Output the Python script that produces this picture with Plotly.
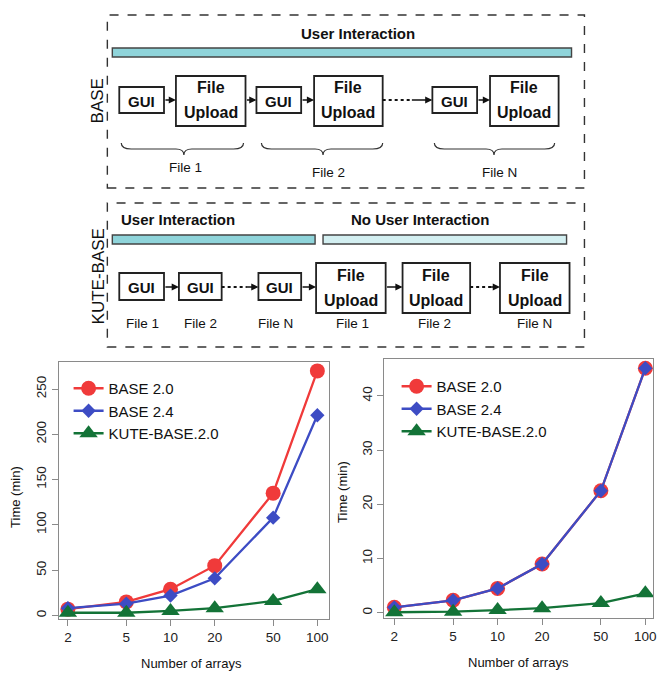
import plotly.graph_objects as go

W, H = 663, 673
FONT = "Liberation Sans, Arial, sans-serif"

# ---------------- data ----------------
arrays = [2, 5, 10, 20, 50, 100]
series_names = ["BASE 2.0", "BASE 2.4", "KUTE-BASE.2.0"]
left_base20 = [7, 15, 29, 55, 135, 270]
left_base24 = [8, 13, 22, 41, 108, 221]
left_kute = [3, 3, 5, 8, 16, 29]
right_base20 = [1.0, 2.3, 4.5, 9.0, 22.5, 45.1]
right_base24 = [1.0, 2.3, 4.5, 9.0, 22.5, 45.1]
right_kute = [0.1, 0.2, 0.5, 0.85, 1.8, 3.6]
left_yticks = [0, 50, 100, 150, 200, 250]
right_yticks = [0, 10, 20, 30, 40]

colors = ["#f03a3a", "#3d4cc4", "#137337"]
symbols = ["circle", "diamond", "triangle-up"]
sizes = [15, 11, 16]


def px(x):
    return x / W


def py(y):
    return 1 - y / H


fig = go.Figure()

for vals, nm, c, s, sz in zip([left_base20, left_base24, left_kute], series_names, colors, symbols, sizes):
    fig.add_trace(go.Scatter(x=arrays, y=vals, name=nm, mode="lines+markers",
                             line=dict(color=c, width=2.3),
                             marker=dict(symbol=s, size=sz, color=c),
                             xaxis="x", yaxis="y", legend="legend"))
for vals, nm, c, s, sz in zip([right_base20, right_base24, right_kute], series_names, colors, symbols, sizes):
    fig.add_trace(go.Scatter(x=arrays, y=vals, name=nm, mode="lines+markers",
                             line=dict(color=c, width=2.3),
                             marker=dict(symbol=s, size=sz, color=c),
                             xaxis="x2", yaxis="y2", legend="legend2"))

axis_common = dict(showline=True, mirror=True, linecolor="#8a8a8a", linewidth=1.2,
                   ticks="outside", tickcolor="#8a8a8a", ticklen=6, tickwidth=1.2,
                   showgrid=False, zeroline=False,
                   tickfont=dict(family=FONT, size=13.5, color="#222"))

shapes = []
ann = []


def rect(x0, y0, x1, y1, dash="solid", fill="rgba(0,0,0,0)", lw=1.8, color="#222"):
    shapes.append(dict(type="rect", xref="paper", yref="paper",
                       x0=px(x0), x1=px(x1), y0=py(y1), y1=py(y0),
                       line=dict(color=color, width=lw, dash=dash), fillcolor=fill, layer="above"))


def text(x, y, t, size=14, bold=False, angle=0, xanchor="center"):
    if bold:
        t = "<b>" + t + "</b>"
    ann.append(dict(x=px(x), y=py(y), xref="paper", yref="paper", text=t, showarrow=False,
                    xanchor=xanchor, yanchor="middle", textangle=angle,
                    font=dict(family=FONT, size=size, color="#111")))


def arrow(x0, x1, y):
    ann.append(dict(x=px(x1), y=py(y), xref="paper", yref="paper", ax=x0 - x1, ay=0,
                    axref="pixel", ayref="pixel", text="", showarrow=True, arrowhead=2,
                    arrowsize=0.9, arrowwidth=1.6, arrowcolor="#111", standoff=0, startstandoff=0))


def dotted(x0, x1, y):
    shapes.append(dict(type="line", xref="paper", yref="paper", x0=px(x0), x1=px(x1),
                       y0=py(y), y1=py(y), line=dict(color="#111", width=1.8, dash="dot")))


def brace(x0, x1, cx, ytop, ybot):
    ym = (ytop + ybot) / 2
    pts = [(x0, ytop), (x0, ym), (x0 + 10, ym), (cx - 8, ym), (cx, ym), (cx, ybot),
           (cx, ym), (cx + 8, ym), (x1 - 10, ym), (x1, ym), (x1, ytop)]
    p = [(px(a), py(b)) for a, b in pts]
    path = (f"M {p[0][0]},{p[0][1]} Q {p[1][0]},{p[1][1]} {p[2][0]},{p[2][1]} "
            f"L {p[3][0]},{p[3][1]} Q {p[4][0]},{p[4][1]} {p[5][0]},{p[5][1]} "
            f"Q {p[6][0]},{p[6][1]} {p[7][0]},{p[7][1]} L {p[8][0]},{p[8][1]} "
            f"Q {p[9][0]},{p[9][1]} {p[10][0]},{p[10][1]}")
    shapes.append(dict(type="path", xref="paper", yref="paper", path=path,
                       line=dict(color="#333", width=1.2)))


def gui(x0, x1, y0, y1):
    rect(x0, y0, x1, y1)
    text((x0 + x1) / 2, (y0 + y1) / 2 + 1, "GUI", 15, True)


def upload(x0, x1, y0, y1):
    rect(x0, y0, x1, y1)
    cx = (x0 + x1) / 2
    text(cx, y0 + 12, "File", 16, True)
    text(cx, y1 - 13, "Upload", 16, True)


# ---- BASE panel ----
rect(108, 15, 588, 188, dash="dash", lw=1.4, color="#333")
text(360, 33, "User Interaction", 15, True)
rect(113, 48, 575, 57, fill="#8fd4da", lw=1.4, color="#444")
text(98, 101, "BASE", 17, angle=-90)
gui(120, 165, 87, 113)
upload(177, 247, 76, 126)
gui(258, 303, 87, 113)
upload(316, 385, 76, 126)
gui(435, 480, 87, 113)
upload(493, 562, 76, 126)
arrow(165, 177, 100)
arrow(247, 258, 100)
arrow(303, 316, 100)
dotted(385, 415, 100)
arrow(413, 435, 100)
arrow(480, 493, 100)
brace(122, 245, 185, 143, 155)
brace(263, 385, 325, 143, 155)
brace(437, 558, 497, 143, 155)
text(187, 167, "File 1", 13.5)
text(330, 173, "File 2", 13.5)
text(503, 173, "File N", 13.5)

# ---- KUTE-BASE panel ----
rect(108, 203, 588, 347, dash="dash", lw=1.4, color="#333")
text(120, 220, "User Interaction", 15, True, xanchor="left")
text(423, 220, "No User Interaction", 15, True)
rect(113, 235, 317, 244, fill="#8fd4da", lw=1.4, color="#444")
rect(325, 235, 570, 244, fill="#d3eff1", lw=1.4, color="#444")
text(99, 276, "KUTE-BASE", 17, angle=-90)
gui(120, 165, 273, 300)
gui(180, 223, 273, 300)
gui(260, 303, 273, 300)
upload(318, 388, 263, 313)
upload(405, 473, 263, 313)
upload(503, 573, 263, 313)
arrow(165, 180, 287)
dotted(223, 248, 287)
arrow(246, 260, 287)
arrow(303, 318, 287)
arrow(388, 405, 287)
dotted(473, 494, 287)
arrow(492, 503, 287)
for xx, t in [(143, "File 1"), (202, "File 2"), (277, "File N"),
              (355, "File 1"), (437, "File 2"), (538, "File N")]:
    text(xx, 323, t, 13.5)

# ---- axis titles ----
text(15, 497, "Time (min)", 13, angle=-90)
text(193, 663, "Number of arrays", 13)
text(345, 492, "Time (min)", 13, angle=-90)
text(522, 662, "Number of arrays", 13)

fig.update_layout(
    width=W, height=H,
    margin=dict(l=0, r=0, t=0, b=0),
    paper_bgcolor="white", plot_bgcolor="white",
    font=dict(family=FONT),
    xaxis=dict(domain=[px(59), px(330.5)], type="log", range=[0.238, 2.076],
               tickvals=arrays, ticktext=[str(a) for a in arrays], anchor="y", **axis_common),
    yaxis=dict(domain=[py(619), py(362)], range=[-3.9, 279.8], tickvals=left_yticks,
               tickangle=-90, anchor="x", **axis_common),
    xaxis2=dict(domain=[px(386.7), px(657)], type="log", range=[0.2337, 2.052],
                tickvals=arrays, ticktext=[str(a) for a in arrays], anchor="y2", **axis_common),
    yaxis2=dict(domain=[py(618), py(359)], range=[-0.96, 46.8], tickvals=right_yticks,
                tickangle=-90, anchor="x2", **axis_common),
    legend=dict(x=px(69), y=py(372), xanchor="left", yanchor="top", bgcolor="rgba(0,0,0,0)",
                font=dict(family=FONT, size=15, color="#111"), tracegroupgap=0),
    legend2=dict(x=px(399), y=py(370), xanchor="left", yanchor="top", bgcolor="rgba(0,0,0,0)",
                 font=dict(family=FONT, size=15, color="#111"), tracegroupgap=0),
    shapes=shapes, annotations=ann,
)

fig.write_html("out.html", config={"displayModeBar": False},
               post_script="document.body.style.margin='0';document.body.style.overflow='hidden';")
